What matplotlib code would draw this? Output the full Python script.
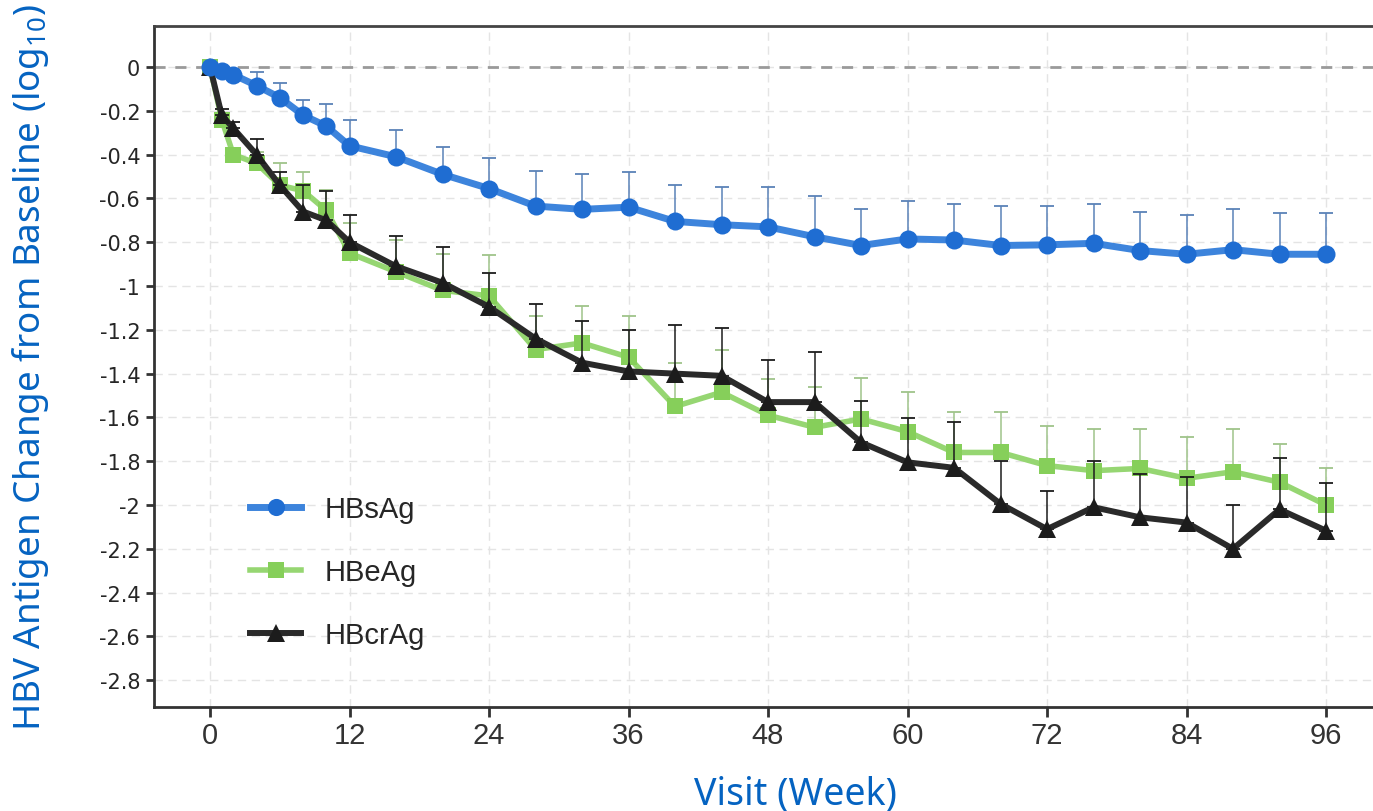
import matplotlib
matplotlib.use("Agg")
import matplotlib.pyplot as plt
import numpy as np

weeks = [0, 1, 2, 4, 6, 8, 10, 12, 16, 20, 24, 28, 32, 36, 40, 44, 48, 52,
         56, 60, 64, 68, 72, 76, 80, 84, 88, 92, 96]

hbsag = [0, -0.02, -0.035, -0.085, -0.14, -0.22, -0.27, -0.36, -0.41, -0.49,
         -0.555, -0.635, -0.65, -0.64, -0.705, -0.72, -0.73, -0.775, -0.815,
         -0.785, -0.79, -0.815, -0.812, -0.805, -0.838, -0.855, -0.834, -0.855, -0.855]
hbsag_err = [0, 0.01, 0.02, 0.063, 0.065, 0.07, 0.10, 0.118, 0.124, 0.126,
             0.14, 0.162, 0.16, 0.16, 0.165, 0.17, 0.18, 0.185, 0.165, 0.175,
             0.165, 0.182, 0.179, 0.18, 0.178, 0.179, 0.184, 0.188, 0.19]

hbeag = [0, -0.24, -0.40, -0.44, -0.54, -0.565, -0.655, -0.85, -0.935, -1.02,
         -1.045, -1.29, -1.26, -1.325, -1.55, -1.485, -1.59, -1.645, -1.607,
         -1.665, -1.76, -1.76, -1.82, -1.843, -1.833, -1.878, -1.848, -1.896, -2.0]
hbeag_err = [0, 0.03, 0.03, 0.05, 0.10, 0.085, 0.095, 0.14, 0.145, 0.166,
             0.185, 0.155, 0.17, 0.19, 0.20, 0.195, 0.165, 0.185, 0.187, 0.183,
             0.183, 0.183, 0.183, 0.19, 0.18, 0.188, 0.195, 0.176, 0.17]

hbcrag = [0, -0.22, -0.28, -0.40, -0.54, -0.66, -0.70, -0.80, -0.91, -0.985,
          -1.095, -1.24, -1.35, -1.39, -1.40, -1.41, -1.53, -1.53, -1.714,
          -1.805, -1.83, -1.995, -2.11, -2.01, -2.056, -2.08, -2.20, -2.02, -2.117]
hbcrag_err = [0, 0.03, 0.03, 0.07, 0.06, 0.12, 0.135, 0.124, 0.14, 0.165,
              0.155, 0.16, 0.19, 0.19, 0.22, 0.22, 0.194, 0.23, 0.187, 0.202,
              0.21, 0.195, 0.175, 0.21, 0.20, 0.21, 0.20, 0.233, 0.217]

xticks = [0, 12, 24, 36, 48, 60, 72, 84, 96]
yticks = [0, -0.2, -0.4, -0.6, -0.8, -1, -1.2, -1.4, -1.6, -1.8, -2, -2.2, -2.4, -2.6, -2.8]
ytick_labels = ["0", "-0.2", "-0.4", "-0.6", "-0.8", "-1", "-1.2", "-1.4", "-1.6",
                "-1.8", "-2", "-2.2", "-2.4", "-2.6", "-2.8"]

plt.rcParams['mathtext.fontset'] = 'custom'
plt.rcParams['mathtext.rm'] = 'Noto Sans'

fig = plt.figure(figsize=(13.73, 8.12), dpi=100)
ax = fig.add_axes([0.1122, 0.1281, 0.8878, 0.8386])

ax.set_xlim(-4.82, 100.04)
ax.set_ylim(-2.922, 0.187)

# grid
for xt in xticks:
    ax.axvline(xt, color='#e4e4e4', lw=1.0, ls=(0, (6, 4)), zorder=0)
for yt in yticks:
    ax.axhline(yt, color='#e4e4e4', lw=1.0, ls=(0, (6, 4)), zorder=0)
ax.axhline(0, color='#9a9a9a', lw=2.0, ls=(0, (4, 3.5)), zorder=1)

def series(y, err, color, lcolor, ecolor, marker, ms, lw, label, z):
    yerr = [np.zeros(len(err)), np.array(err)]
    ax.errorbar(weeks, y, yerr=yerr, fmt='none', ecolor=ecolor, elinewidth=1.1,
                capsize=4.7, capthick=1.3, zorder=z)
    ax.plot(weeks, y, color=lcolor, lw=lw, zorder=z + 0.1, solid_capstyle='round')
    ax.plot(weeks, y, ls='none', marker=marker, ms=ms, color=color,
            markeredgewidth=0, zorder=z + 0.2)
    return plt.Line2D([], [], color=lcolor, lw=lw, marker=marker, ms=ms * 0.95,
                      markerfacecolor=color, markeredgewidth=0, label=label)

h2 = series(hbeag, hbeag_err, '#86cf5a', '#96d672', '#9fc48a', 's', 11.5, 4.0, 'HBeAg', 3)
h3 = series(hbcrag, hbcrag_err, '#1c1c1c', '#2a2a2a', '#1c1c1c', '^', 13.5, 4.3, 'HBcrAg', 4)
h1 = series(hbsag, hbsag_err, '#1f6dd2', '#3d84dc', '#5a82b8', 'o', 13, 5.0, 'HBsAg', 5)

leg = ax.legend(handles=[h1, h2, h3], loc='center left',
                bbox_to_anchor=(0.0788, 0.198), frameon=False,
                prop={'family': 'Liberation Sans', 'size': 21},
                handlelength=1.75, handletextpad=0.8, labelspacing=1.2,
                borderpad=0, borderaxespad=0)
for t in leg.get_texts():
    t.set_color('#262626')

ax.set_xticks(xticks)
ax.set_xticklabels([str(x) for x in xticks], fontfamily='Liberation Sans',
                   fontsize=21, color='#333333')
ax.set_yticks(yticks)
ax.set_yticklabels(ytick_labels, fontfamily='DejaVu Sans', fontsize=15,
                   color='#262626')
ax.tick_params(axis='x', length=7, width=2, color='#333333', pad=3)
ax.tick_params(axis='y', length=6, width=2, color='#333333', pad=4)

for s in ['left', 'bottom']:
    ax.spines[s].set_linewidth(2.0)
    ax.spines[s].set_color('#333333')
ax.spines['top'].set_linewidth(2.0)
ax.spines['top'].set_color('#444444')
ax.spines['right'].set_visible(False)

ax.set_ylabel('HBV Antigen Change from Baseline (log$_{10}$)', fontfamily='Noto Sans',
              fontsize=26.5, color='#0563c1')
ax.yaxis.set_label_coords(-0.101, 0.5)
ax.set_xlabel('Visit (Week)', fontfamily='Noto Sans', fontsize=27, color='#0563c1')
ax.xaxis.set_label_coords((795 - 154) / 1219, -(795 - 708) / 681)
ax.xaxis.label.set_verticalalignment('center')
ax.yaxis.label.set_verticalalignment('center')

fig.savefig('out.png', dpi=100)
